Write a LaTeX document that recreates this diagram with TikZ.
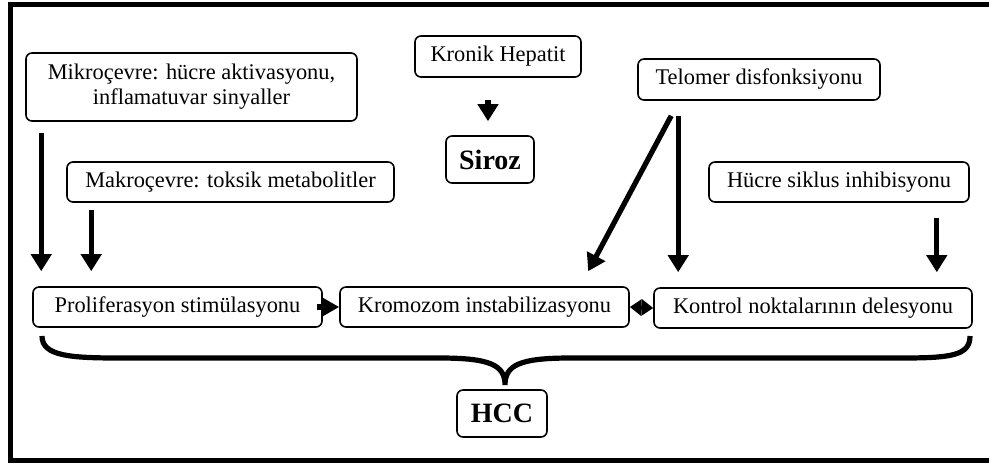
\documentclass[tikz,border=0pt]{standalone}
\usepackage{fontspec}
\setmainfont{Liberation Serif}
\usetikzlibrary{positioning, arrows.meta, calc}

\begin{document}
\begin{tikzpicture}[
            x=0.5pt, y=-0.5pt,
            box/.style={draw, rounded corners=3pt, line width=0.8pt, inner sep=0pt,
                align=center, font=\fontsize{11.2}{12.5}\selectfont},
            bigbox/.style={box, font=\fontsize{14}{15}\selectfont\bfseries},
            arr/.style={line width=2.6pt, -{Triangle[width=10pt, length=8.5pt]}},
            arrsmall/.style={line width=3pt, -{Triangle[width=9pt, length=8.5pt]}},
            arrboth/.style={line width=2pt, {Triangle[width=8pt, length=5.8pt]}-{Triangle[width=8pt, length=5.8pt]}},
        ]
            \useasboundingbox (0,0) rectangle (989,463);
            % frame
            \draw[line width=2.6pt] (989,4.5) -- (10.5,4.5) -- (10.5,460.5) -- (989,460.5);

            % upper boxes
            \node[box, minimum width=165.5pt, minimum height=34pt] (mikro) at (191.5,87)
                {Mikroçevre: hücre aktivasyonu,\\ inflamatuvar sinyaller};
            \node[box, minimum width=163.5pt, minimum height=20pt] (makro) at (230.5,182)
                {Makroçevre: toksik metabolitler};
            \node[box, minimum width=83pt, minimum height=20.5pt] (kronik) at (498,56.5) {Kronik Hepatit};
            \node[bigbox, minimum width=44pt, minimum height=23.5pt] (siroz) at (490,159.5) {Siroz};
            \node[box, minimum width=121pt, minimum height=20.5pt] (telomer) at (759,79.5) {Telomer disfonksiyonu};
            \node[box, minimum width=130pt, minimum height=20pt] (hucre) at (839,182) {Hücre siklus inhibisyonu};

            % lower row
            \node[box, minimum width=144.5pt, minimum height=20pt] (prolif) at (177.5,307) {Proliferasyon stimülasyonu};
            \node[box, minimum width=144.5pt, minimum height=20pt] (kromozom) at (484.5,307) {Kromozom instabilizasyonu};
            \node[box, minimum width=159pt, minimum height=20pt] (kontrol) at (813,308) {Kontrol noktalarının delesyonu};
            \node[bigbox, minimum width=45pt, minimum height=23.5pt] (hcc) at (502,413.5) {HCC};

            % arrows
            \draw[arr] ($(prolif.north west |- mikro.south)+(4.5pt,-5.5pt)$) -- ($(prolif.north west)+(4.5pt,7.5pt)$);
            \draw[arr] ($(prolif.north west |- makro.south)+(29.5pt,-3.5pt)$) -- ($(prolif.north west)+(29.5pt,7.5pt)$);
            \draw[arr] ($(kronik.south)+(-5pt,-11pt)$) -- ($(kronik.south |- siroz.north)+(-5pt,7pt)$);
            \draw[arr] ($(telomer.south west)+(17pt,-7.5pt)$) -- ($(kromozom.north west)+(124.5pt,7.5pt)$);
            \draw[arr] ($(kontrol.north west |- telomer.south)+(12.5pt,-7.5pt)$) -- ($(kontrol.north west)+(12.5pt,7.5pt)$);
            \draw[arr] ($(kontrol.north east |- hucre.south)+(-18pt,-7.5pt)$) -- ($(kontrol.north east)+(-18pt,7.5pt)$);
            \draw[arrsmall] ([xshift=-3pt]prolif.east) -- (kromozom.west);
            \draw[arrboth] (kromozom.east) -- (kontrol.west);

            % brace
            \draw[line width=2.6pt] (42,336) .. controls (42,356) and (70,358) .. (120,358) -- (440,358)
                .. controls (490,358) and (505,365) .. (505,385)
                .. controls (505,365) and (520,358) .. (570,358) -- (900,358)
                .. controls (950,358) and (970,356) .. (970,336);
        \end{tikzpicture}
\end{document}
